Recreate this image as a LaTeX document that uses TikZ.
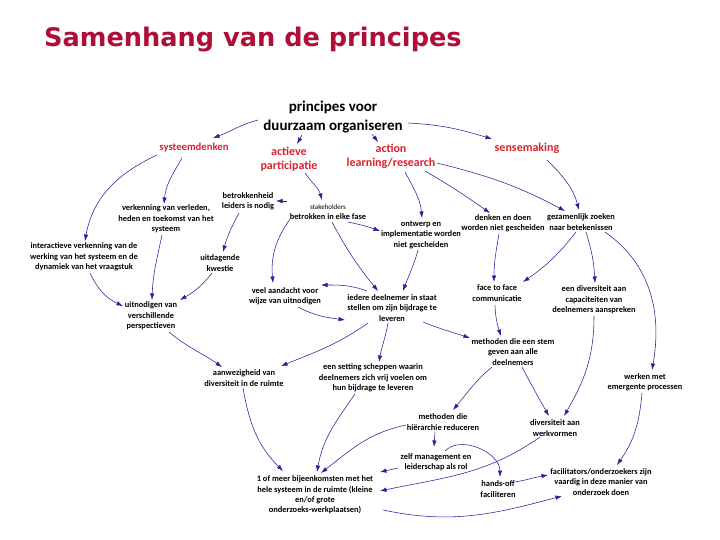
\documentclass[tikz,border=0pt]{standalone}
\usepackage{fontspec}
\setmainfont{Carlito}
\newfontfamily\titlefont{DejaVu Sans}
\usetikzlibrary{arrows.meta}
\definecolor{navy}{RGB}{35,35,155}
\definecolor{lred}{RGB}{215,35,45}
\definecolor{tred}{RGB}{175,15,55}
\begin{document}
\begin{tikzpicture}[x=1pt,y=1pt,
  lbl/.style={font=\bfseries\fontsize{8.4}{10.3}\selectfont, align=center, inner sep=1pt},
  prin/.style={font=\bfseries\fontsize{12}{14}\selectfont, text=lred, align=center, inner sep=1pt},
  arr/.style={draw=navy, line width=0.55pt, -{Latex[length=6.5pt,width=4.4pt]}}]
\useasboundingbox[fill=white] (0,0) rectangle (720,-540);
\node[anchor=base west, font=\titlefont\bfseries\fontsize{25.6}{30}\selectfont, text=tred, inner sep=0] (title) at (44,-47) {Samenhang van de principes};
\node[font=\bfseries\fontsize{15}{18.5}\selectfont, align=center, inner sep=1pt] (head) at (333,-117) {principes voor\\duurzaam organiseren};
\node[prin, font=\bfseries\fontsize{10.7}{13}\selectfont] (sys) at (194,-148) {systeemdenken};
\node[prin] (act) at (289,-159) {actieve\\participatie};
\node[prin] (alr) at (391,-156) {action\\learning/research};
\node[prin] (sense) at (527,-148) {sensemaking};
\node[lbl] (betr) at (248,-201) {betrokkenheid\\leiders is nodig};
\node[lbl] (stake) at (328,-212) {{\mdseries\fontsize{7}{9}\selectfont stakeholders}\\betrokken in elke fase};
\node[lbl] (verk) at (166,-219) {verkenning van verleden,\\heden en toekomst van het\\systeem};
\node[lbl] (inter) at (84,-257) {interactieve verkenning van de\\werking van het systeem en de\\dynamiek van het vraagstuk};
\node[lbl] (uitd) at (220,-263) {uitdagende\\kwestie};
\node[lbl] (uitn) at (151,-316) {uitnodigen van\\verschillende\\perspectieven};
\node[lbl] (ontw) at (421,-235) {ontwerp en\\implementatie worden\\niet gescheiden};
\node[lbl] (denk) at (503,-223) {denken en doen\\worden niet gescheiden};
\node[lbl] (gez) at (581,-222) {gezamenlijk zoeken\\naar betekenissen};
\node[lbl] (veel) at (285,-296) {veel aandacht voor\\wijze van uitnodigen};
\node[lbl] (ied) at (392,-308) {iedere deelnemer in staat\\stellen om zijn bijdrage te\\leveren};
\node[lbl] (face) at (497,-293) {face to face\\communicatie};
\node[lbl] (ediv) at (594,-300) {een diversiteit aan\\capaciteiten van\\deelnemers aanspreken};
\node[lbl] (mstem) at (513,-352) {methoden die een stem\\geven aan alle\\deelnemers};
\node[lbl] (werken) at (645,-382) {werken met\\emergente processen};
\node[lbl] (aanw) at (244,-378) {aanwezigheid van\\diversiteit in de ruimte};
\node[lbl] (setting) at (373,-378) {een setting scheppen waarin\\deelnemers zich vrij voelen om\\hun bijdrage te leveren};
\node[lbl] (mhier) at (443,-422) {methoden die\\hiërarchie reduceren};
\node[lbl] (dwerk) at (555,-428) {diversiteit aan\\werkvormen};
\node[lbl] (zelf) at (436,-462) {zelf management en\\leiderschap als rol};
\node[lbl] (hands) at (498,-489) {hands-off\\faciliteren};
\node[lbl] (facil) at (601,-482) {facilitators/onderzoekers zijn\\vaardig in deze manier van\\onderzoek doen};
\node[lbl] (meer) at (315,-495) {1 of meer bijeenkomsten met het\\hele systeem in de ruimte (kleine\\en/of grote\\onderzoeks-werkplaatsen)};
% connectors
\draw[arr] ([shift={(-75,-3)}]head.center) to[out=195,in=20] ([shift={(19,10)}]sys.center);
\draw[arr] ([shift={(-31,-18)}]head.center) -- ([shift={(8,15)}]act.center);
\draw[arr] ([shift={(39,-17)}]head.center) -- ([shift={(-13,14)}]alr.center);
\draw[arr] ([shift={(75,-6)}]head.center) to[out=-3,in=163] ([shift={(-35,9)}]sense.center);
\draw[arr] ([shift={(-37,-7)}]sys.center) to[out=205,in=80] ([shift={(1,16)}]inter.center);
\draw[arr] ([shift={(-12,-10)}]sys.center) to[out=240,in=85] ([shift={(-2,15)}]verk.center);
\draw[arr] ([shift={(-4,-16)}]verk.center) to[out=258,in=88] ([shift={(1,16)}]uitn.center);
\draw[arr] ([shift={(6,-16)}]inter.center) to[out=295,in=155] ([shift={(-28,10)}]uitn.center);
\draw[arr] ([shift={(-8,-10)}]uitd.center) to[out=232,in=30] ([shift={(29,16)}]uitn.center);
\draw[arr] ([shift={(-9,-12)}]betr.center) to[out=242,in=75] ([shift={(3,11)}]uitd.center);
\draw[arr] ([shift={(-41,11)}]stake.center) -- ([shift={(28,0)}]betr.center);
\draw[arr] ([shift={(16,-14)}]act.center) to[out=305,in=105] ([shift={(-6,12)}]stake.center);
\draw[arr] ([shift={(-38,-7)}]stake.center) to[out=235,in=95] ([shift={(-12,13)}]veel.center);
\draw[arr] ([shift={(20,-10)}]stake.center) to[out=-12,in=160] ([shift={(-41,4)}]ontw.center);
\draw[arr] ([shift={(4,-10)}]stake.center) to[out=-62,in=129] ([shift={(-14,17)}]ied.center);
\draw[arr] ([shift={(14,-16)}]alr.center) to[out=-62,in=95] ([shift={(1,17)}]ontw.center);
\draw[arr] ([shift={(34,-15)}]alr.center) to[out=-30,in=145] ([shift={(-13,10)}]denk.center);
\draw[arr] ([shift={(46,-7)}]alr.center) to[out=-14,in=152] ([shift={(-16,11)}]gez.center);
\draw[arr] ([shift={(20,-12)}]sense.center) to[out=-45,in=105] ([shift={(-2,12)}]gez.center);
\draw[arr] ([shift={(-3,-15)}]ontw.center) to[out=-105,in=70] ([shift={(11,17)}]ied.center);
\draw[arr] ([shift={(-4,-11)}]denk.center) to[out=-100,in=90] ([shift={(-3,11)}]face.center);
\draw[arr] ([shift={(-5,-10)}]gez.center) to[out=-128,in=35] ([shift={(26,11)}]face.center);
\draw[arr] ([shift={(5,-10)}]gez.center) to[out=-73,in=93] ([shift={(1,17)}]ediv.center);
\draw[arr] ([shift={(24,-10)}]gez.center) to[out=-35,in=80] ([shift={(7,12)}]werken.center);
\draw[arr] ([shift={(-2,-12)}]face.center) to[out=-88,in=108] ([shift={(-12,16)}]mstem.center);
\draw[arr] ([shift={(-25,17)}]ied.center) to[out=160,in=0] ([shift={(36,11)}]veel.center);
\draw[arr] ([shift={(13,-11)}]veel.center) to[out=-28,in=172] ([shift={(-47,-12)}]ied.center);
\draw[arr] ([shift={(-24,-15)}]ied.center) to[out=-145,in=22] ([shift={(37,12)}]aanw.center);
\draw[arr] ([shift={(-4,-15)}]ied.center) to[out=-100,in=80] ([shift={(6,16)}]setting.center);
\draw[arr] ([shift={(31,-14)}]ied.center) to[out=-22,in=162] ([shift={(-43,14)}]mstem.center);
\draw[arr] ([shift={(18,-16)}]uitn.center) to[out=-40,in=145] ([shift={(-22,11)}]aanw.center);
\draw[arr] ([shift={(-1,-10)}]aanw.center) to[out=-80,in=135] ([shift={(-32,24)}]meer.center);
\draw[arr] ([shift={(-18,-16)}]setting.center) to[out=-125,in=80] ([shift={(2,23)}]meer.center);
\draw[arr] ([shift={(-21,-15)}]mstem.center) to[out=-140,in=50] ([shift={(10,12)}]mhier.center);
\draw[arr] ([shift={(9,-15)}]mstem.center) to[out=-62,in=120] ([shift={(-6,12)}]dwerk.center);
\draw[arr] ([shift={(0,-16)}]ediv.center) to[out=-90,in=60] ([shift={(9,12)}]dwerk.center);
\draw[arr] ([shift={(-37,-3)}]mhier.center) to[out=192,in=38] ([shift={(6,22)}]meer.center);
\draw[arr] ([shift={(-8,-10)}]mhier.center) -- ([shift={(-2,15)}]zelf.center);
\draw[arr] ([shift={(-38,-6)}]zelf.center) -- ([shift={(65,23)}]meer.center);
\draw[arr] ([shift={(9,11)}]zelf.center) to[out=45,in=90] ([shift={(2,12)}]hands.center);
\draw[arr] ([shift={(-15,-9)}]dwerk.center) to[out=215,in=12] ([shift={(65,4)}]meer.center);
\draw[arr] ([shift={(17,7)}]hands.center) to[out=10,in=190] ([shift={(-53,7)}]facil.center);
\draw[arr] ([shift={(68,-15)}]meer.center) to[out=-12,in=195] ([shift={(-39,-14)}]facil.center);
\draw[arr] ([shift={(-3,-11)}]werken.center) to[out=-95,in=55] ([shift={(16,17)}]facil.center);
\end{tikzpicture}
\end{document}
